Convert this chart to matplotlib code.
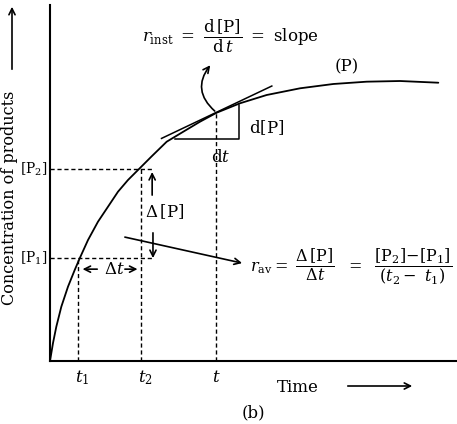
import matplotlib
matplotlib.use("Agg")
import matplotlib.pyplot as plt
from matplotlib.patches import FancyArrowPatch

plt.rcParams['font.family'] = ['DejaVu Serif']
plt.rcParams['mathtext.fontset'] = 'dejavuserif'

# ---- data (arbitrary units) ----
time = [0, 0.074, 0.155, 0.278, 0.442, 0.607, 0.730, 0.934, 1.179, 1.425,
        1.671, 1.916, 2.204, 2.489, 2.867, 3.275, 3.686, 4.096, 4.668, 5.324,
        6.143, 6.961, 7.781, 8.600, 9.541]
conc = [0, 0.506, 0.963, 1.525, 2.087, 2.556, 2.885, 3.399, 3.913, 4.334,
        4.756, 5.084, 5.413, 5.739, 6.160, 6.441, 6.722, 6.975, 7.239, 7.472,
        7.660, 7.781, 7.846, 7.865, 7.817]

t1, P1 = 0.69, 2.89
t2, P2 = 2.24, 5.39
t_inst, P_inst = 4.08, 6.98
tangent_slope = 0.543
tangent_span = [2.74, 5.45]
tri_t = [3.07, 4.65]
tri_c = [6.23, 7.19]
tick_labels = [r'$t_{1}$', r'$t_{2}$', r'$t$']

fig = plt.figure(figsize=(4.57, 4.24), dpi=100)
ax = fig.add_axes([50/457, 63/424, 407/457, 356/424])
ax.set_xlim(0, 10)
ax.set_ylim(0, 10)
for s in ['top', 'right']:
    ax.spines[s].set_visible(False)
for s in ['left', 'bottom']:
    ax.spines[s].set_linewidth(1.5)
ax.set_xticks([])
ax.set_yticks([])

k = 'black'
ax.plot(time, conc, color=k, lw=1.3, solid_joinstyle='round',
        solid_capstyle='round', antialiased=True)

# tangent
tx = tangent_span
ty = [P_inst + tangent_slope*(x - t_inst) for x in tx]
ax.plot(tx, ty, color=k, lw=1.1)
# slope triangle
ax.plot([tri_t[0], tri_t[1], tri_t[1]], [tri_c[0], tri_c[0], tri_c[1]],
        color=k, lw=1.1)

dash = dict(color=k, lw=1.0, ls=(0, (3, 2)))
ax.plot([0, 2.51], [P2, P2], **dash)
ax.plot([t2, t2], [0, P2], **dash)
ax.plot([0, 2.53], [P1, P1], **dash)
ax.plot([t1, t1], [0, P1], **dash)
ax.plot([t_inst, t_inst], [0, P_inst], **dash)

arr = dict(arrowstyle='->', color=k, lw=1.2, mutation_scale=11, shrinkA=0, shrinkB=0)
ax.annotate('', xy=(2.51, 5.31), xytext=(2.51, 4.66), arrowprops=arr)
ax.annotate('', xy=(2.53, 2.89), xytext=(2.53, 3.60), arrowprops=arr)
ax.annotate('', xy=(0.80, 2.58), xytext=(1.16, 2.58), arrowprops=arr)
ax.annotate('', xy=(2.15, 2.58), xytext=(1.84, 2.58), arrowprops=arr)
ax.annotate('', xy=(4.72, 2.75), xytext=(1.84, 3.48), arrowprops=arr)
ax.add_patch(FancyArrowPatch((4.10, 6.97), (3.98, 8.37),
                             connectionstyle='arc3,rad=-0.5',
                             arrowstyle='->', mutation_scale=11, lw=1.2, color=k))

fs = 12
ax.text(1.57, 2.58, r'$\Delta t$', fontsize=fs, ha='center', va='center')
ax.text(2.33, 4.19, r'$\Delta\,[\mathrm{P}]$', fontsize=fs, ha='left', va='center')
ax.text(4.88, 6.56, r'$\mathrm{d[P]}$', fontsize=fs, ha='left', va='center')
ax.text(4.19, 5.71, r'$\mathrm{d}t$', fontsize=fs, ha='center', va='center')
ax.text(7.30, 8.26, '(P)', fontsize=fs, ha='center', va='center')

ax.text(4.42, 9.12,
        r'$r_{\mathrm{inst}}\ =\ \dfrac{\mathrm{d\,[P]}}{\mathrm{d}\,t}\ =\ \mathrm{slope}$',
        fontsize=fs, ha='center', va='center')
ax.text(7.40, 2.64,
        r'$r_{\mathrm{av}} =\ \dfrac{\Delta\,[\mathrm{P}]}{\Delta t}\ \ =\ \ \dfrac{[\mathrm{P}_2]\mathrm{-}[\mathrm{P}_1]}{(t_2-\ t_1)}$',
        fontsize=11.5, ha='center', va='center')

for x, lab in zip([t1, t2, t_inst], tick_labels):
    ax.annotate(lab, xy=(x, 0), xytext=(3 if lab != r'$t$' else 0, -12),
                textcoords='offset points', ha='center', va='center', fontsize=fs)
for y, lab in zip([P1, P2], [r'$[\mathrm{P}_1]$', r'$[\mathrm{P}_2]$']):
    ax.annotate(lab, xy=(0, y), xytext=(-2, 0), textcoords='offset points',
                ha='right', va='center', fontsize=10)

fig.text(298/457, 1 - 387/424, 'Time', fontsize=fs, ha='center', va='center')
fig.add_artist(FancyArrowPatch((345/457, 1 - 386/424), (415/457, 1 - 386/424),
                               transform=fig.transFigure, arrowstyle='->',
                               mutation_scale=11, lw=1.2, color=k))
fig.text(253/457, 1 - 413/424, '(b)', fontsize=fs, ha='center', va='center')
fig.text(10/457, 1 - 198/424, 'Concentration of products', fontsize=11.5,
         rotation=90, ha='center', va='center')
fig.add_artist(FancyArrowPatch((12/457, 1 - 72/424), (12/457, 1 - 4/424),
                               transform=fig.transFigure, arrowstyle='->',
                               mutation_scale=11, lw=1.2, color=k))

fig.savefig('out.png', dpi=100)
